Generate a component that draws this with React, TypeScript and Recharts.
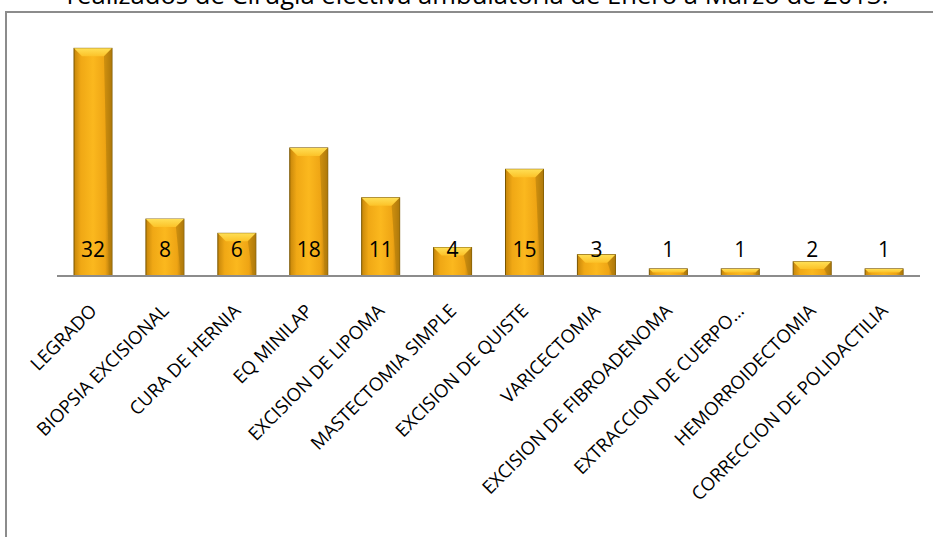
import { Bar, BarChart, LabelList, XAxis, YAxis } from 'recharts';

const categories = [
  'LEGRADO',
  'BIOPSIA EXCISIONAL',
  'CURA DE HERNIA',
  'EQ MINILAP',
  'EXCISION DE LIPOMA',
  'MASTECTOMIA SIMPLE',
  'EXCISION DE QUISTE',
  'VARICECTOMIA',
  'EXCISION DE FIBROADENOMA',
  'EXTRACCION DE CUERPO…',
  'HEMORROIDECTOMIA',
  'CORRECCION DE POLIDACTILIA',
];
const cases = [32, 8, 6, 18, 11, 4, 15, 3, 1, 1, 2, 1];

const data = categories.map((name, i) => ({ name, value: cases[i] }));

const AXIS_Y = 276;

// bevelled gold bar like the Excel style
const GoldBar = (props: any) => {
  const { x, y, width, height } = props;
  if (!height || height <= 0) return null;
  const b = Math.min(8, height / 2);
  return (
    <g>
      <rect x={x} y={y} width={width} height={height} fill="url(#goldBody)" stroke="#7a5600" strokeWidth={1} />
      <polygon
        points={`${x},${y} ${x + width},${y} ${x + width - b},${y + b} ${x + b},${y + b}`}
        fill="url(#goldTop)"
      />
      <polygon
        points={`${x + width},${y} ${x + width},${y + height} ${x + width - 3},${y + height} ${x + width - b},${y + b}`}
        fill="#b47e0c"
        opacity={0.6}
      />
    </g>
  );
};

const ValueLabel = (props: any) => {
  const { x, width, value } = props;
  return (
    <text
      x={x + width / 2}
      y={AXIS_Y - 19}
      textAnchor="middle"
      fontFamily="Open Sans"
      fontSize={21}
      fill="#000"
    >
      {value}
    </text>
  );
};

const CategoryTick = (props: any) => {
  const { x, y, payload } = props;
  return (
    <text
      x={0}
      y={0}
      transform={`translate(${x + 5},${y + 28}) rotate(-45)`}
      textAnchor="end"
      fontFamily="Open Sans"
      fontSize={18.5}
      fill="#000"
    >
      {payload.value}
    </text>
  );
};

export default function App() {
  return (
    <div style={{ position: 'absolute', left: 0, top: 0, width: 933, height: 537, overflow: 'hidden', background: '#fff' }}>
      <div
        style={{
          position: 'absolute',
          left: 5,
          top: 11,
          width: 950,
          height: 560,
          border: '2px solid #8c8c8c',
        }}
      />
      <div
        style={{
          position: 'absolute',
          left: 11,
          top: -22,
          width: 933,
          textAlign: 'center',
          fontFamily: 'Open Sans',
          fontSize: 25.6,
          lineHeight: '34px',
          whiteSpace: 'nowrap',
          color: '#000',
        }}
      >
        realizados de Cirugia electiva ambulatoria de Enero a Marzo de 2013.
      </div>
      <div style={{ position: 'absolute', left: 0, top: 0 }}>
        <BarChart
          width={933}
          height={537}
          data={data}
          margin={{ top: 27, right: 13, left: 57, bottom: 0 }}
          barSize={38}
        >
          <defs>
            <linearGradient id="goldBody" x1="0" y1="0" x2="1" y2="0">
              <stop offset="0%" stopColor="#c6860a" />
              <stop offset="18%" stopColor="#f0a815" />
              <stop offset="50%" stopColor="#fbb81e" />
              <stop offset="82%" stopColor="#eea414" />
              <stop offset="100%" stopColor="#a5700a" />
            </linearGradient>
            <linearGradient id="goldTop" x1="0" y1="0" x2="0" y2="1">
              <stop offset="0%" stopColor="#ffdf55" />
              <stop offset="100%" stopColor="#fcc228" />
            </linearGradient>
          </defs>
          <XAxis
            dataKey="name"
            interval={0}
            height={537 - AXIS_Y}
            tickLine={false}
            axisLine={{ stroke: '#8c8c8c', strokeWidth: 2 }}
            tick={<CategoryTick />}
          />
          <YAxis hide domain={[0, 35]} />
          <Bar dataKey="value" shape={<GoldBar />} isAnimationActive={false}>
            <LabelList dataKey="value" content={<ValueLabel />} />
          </Bar>
        </BarChart>
      </div>
    </div>
  );
}
